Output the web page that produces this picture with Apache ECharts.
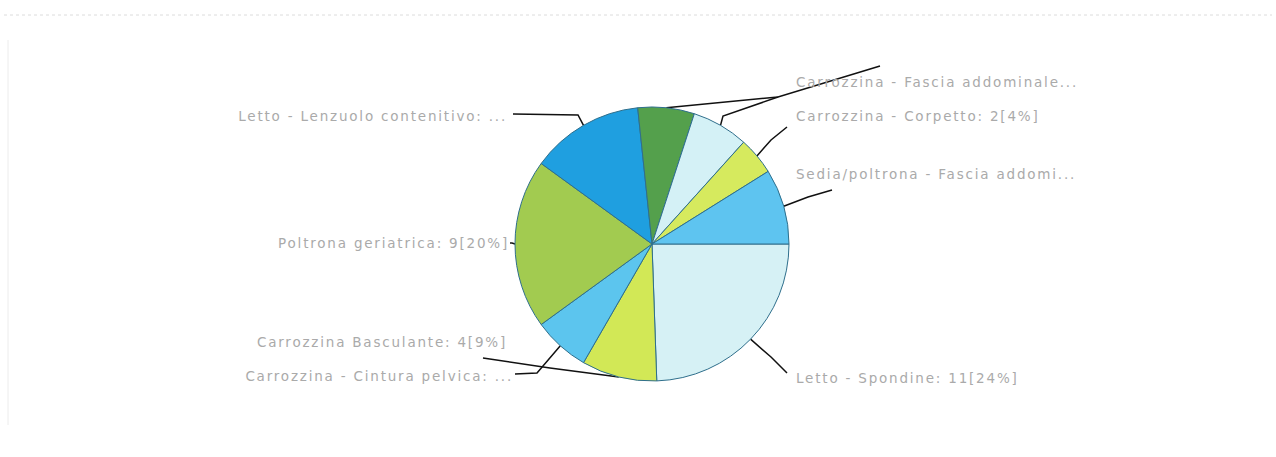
<!DOCTYPE html>
<html>
<head>
<meta charset="utf-8">
<title>Contenzioni</title>
<script src="https://cdn.jsdelivr.net/npm/echarts@6/dist/echarts.min.js"></script>
<style>
html, body { margin: 0; padding: 0; background: #fff; }
#main { width: 1276px; height: 457px; }
/* the original labels are set wide, like old Verdana */
#main text { letter-spacing: 1.8px; }
</style>
</head>
<body>
<div id="main"></div>
<script>
// slices, clockwise from 3 o'clock
var categories = [
	'Letto - Spondine',
	'Carrozzina Basculante',
	'Carrozzina - Cintura pelvica',
	'Poltrona geriatrica',
	'Letto - Lenzuolo contenitivo',
	'Carrozzina - Fascia addominale',
	'Carrozzina - Fascia addominale',
	'Carrozzina - Corpetto',
	'Sedia/poltrona - Fascia addominale'
];
var counts = [11, 4, 3, 9, 6, 3, 3, 2, 4];
var sliceColors = ['#d6f1f5', '#d2e856', '#5cc5ee', '#a2cb50', '#1f9fe0', '#54a04c', '#d4f1f6', '#d6ea5e', '#5ec4f0'];

// label placement (page px) and the two bends of each label line
var labelSpots = [
	{ x: 796, y: 378, align: 'left', bends: [[771, 357], [787, 373]] },
	{ x: 507, y: 342, align: 'right', bends: [[550, 368], [483, 358]] },
	{ x: 513, y: 376, align: 'right', bends: [[537, 373], [515, 374]] },
	{ x: 509, y: 243, align: 'right', bends: [[512, 243], [510, 243]] },
	{ x: 507, y: 116, align: 'right', bends: [[578, 115], [513, 114]] },
	{ x: 796, y: 82, align: 'left', bends: [[778, 97], [880, 66]] },
	{ x: 796, y: 82, align: 'left', bends: [[723, 116], [778, 97]] },
	{ x: 796, y: 116, align: 'left', bends: [[771, 140], [787, 127]] },
	{ x: 796, y: 174, align: 'left', bends: [[808, 197], [832, 190]] }
];

var pieData = [];
for (var i = 0; i < categories.length; i++) {
	pieData.push({ name: categories[i], value: counts[i], itemStyle: { color: sliceColors[i] } });
}
// two slices share the same cut label, drawn on top of each other; keep only one visible
pieData[5].label = { color: 'rgba(0,0,0,0)' };

// the original cuts labels after 30 characters
function cutLabel(p) {
	var txt = p.name + ': ' + p.value + '[' + Math.round(p.percent) + '%]';
	if (txt.length > 30) {
		txt = txt.substring(0, 30) + '...';
	}
	return txt;
}

var option = {
	backgroundColor: '#ffffff',
	animation: false,
	graphic: [{
		type: 'line',
		shape: { x1: 4, y1: 15, x2: 1272, y2: 15 },
		style: { stroke: '#dcdcdc', lineWidth: 1, lineDash: [3, 3] }
	}, {
		type: 'line',
		shape: { x1: 8, y1: 40, x2: 8, y2: 425 },
		style: { stroke: '#ececec', lineWidth: 1 }
	}],
	series: [{
		type: 'pie',
		center: [652, 244],
		radius: 137,
		startAngle: 0,
		clockwise: true,
		avoidLabelOverlap: false,
		data: pieData,
		itemStyle: {
			borderColor: '#2f6f8c',
			borderWidth: 1
		},
		label: {
			show: true,
			formatter: cutLabel,
			fontFamily: 'DejaVu Sans',
			fontSize: 13.5,
			color: '#aaaaaa'
		},
		labelLine: {
			show: true,
			smooth: false,
			lineStyle: { color: '#111111', width: 1.5 }
		},
		labelLayout: function(p) {
			var s = labelSpots[p.dataIndex];
			var pts = [p.labelLinePoints[0]].concat(s.bends);
			return {
				x: s.x,
				y: s.y,
				align: s.align,
				verticalAlign: 'middle',
				labelLinePoints: pts
			};
		}
	}]
};

var myChart = echarts.init(document.getElementById('main'), null, { renderer: 'svg' });
myChart.setOption(option);
</script>
</body>
</html>
